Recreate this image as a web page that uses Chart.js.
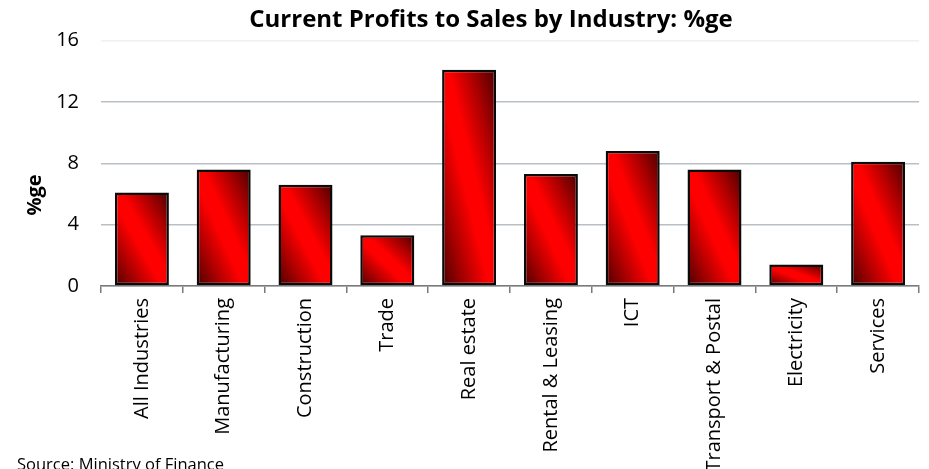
<!DOCTYPE html>
<html>
<head>
<meta charset="utf-8">
<title>Current Profits to Sales by Industry</title>
<script src="https://cdn.jsdelivr.net/npm/chart.js@4.4.1/dist/chart.umd.min.js"></script>
<style>
  html, body { margin: 0; padding: 0; background: #fff; overflow: hidden; }
  #wrap { position: relative; width: 929px; height: 469px; overflow: hidden; }
  #chart { position: absolute; left: 0; top: 0; }
  .source {
    position: absolute; left: 17px; top: 452px;
    font: 16.5px "Open Sans", sans-serif; color: #000;
  }
</style>
</head>
<body>
<div id="wrap">
  <canvas id="chart" width="929" height="520"></canvas>
  <div class="source">Source: Ministry of Finance</div>
</div>
<script>
// Current profits as a share of sales, by industry (%)
const categories = ['All Industries', 'Manufacturing', 'Construction', 'Trade', 'Real estate',
  'Rental & Leasing', 'ICT', 'Transport & Postal', 'Electricity', 'Services'];
const profitShare = [6.1, 7.6, 6.6, 3.3, 14.1, 7.3, 8.8, 7.6, 1.4, 8.1];
const yTicks = [0, 4, 8, 12, 16];

const BAR_PCT = 0.66;
const FONT = '"Open Sans", sans-serif';

// Diagonal shading: dark at bottom-left and top-right corners, bright red across the middle
function barFill(ctx) {
  const chart = ctx.chart;
  if (ctx.type !== 'data' || !chart.chartArea) return '#ff0000';
  const xs = chart.scales.x, ys = chart.scales.y;
  const w = xs.width / categories.length * BAR_PCT;
  const left = xs.getPixelForValue(ctx.dataIndex) - w / 2;
  const top = ys.getPixelForValue(ctx.raw);
  const base = ys.getPixelForValue(0);
  const h = Math.max(base - top, 1);
  const k = 2 * w * h / (w * w + h * h);
  const g = chart.ctx.createLinearGradient(left, base, left + h * k, base - w * k);
  g.addColorStop(0, '#4a0000');
  g.addColorStop(0.22, '#a80000');
  g.addColorStop(0.44, '#ff0000');
  g.addColorStop(0.56, '#ff0000');
  g.addColorStop(0.78, '#a80000');
  g.addColorStop(1, '#4a0000');
  return g;
}

// Title and y-axis caption drawn at fixed spots
const captions = {
  id: 'captions',
  afterDraw(chart) {
    const c = chart.ctx;
    c.save();
    c.fillStyle = '#000';
    c.textAlign = 'center';
    c.textBaseline = 'middle';
    c.font = 'bold 24px ' + FONT;
    c.fillText('Current Profits to Sales by Industry: %ge', 491, 20);
    c.translate(35, 195);
    c.rotate(-Math.PI / 2);
    c.font = 'bold 20px ' + FONT;
    c.fillText('%ge', 0, 0);
    c.restore();
  }
};

new Chart(document.getElementById('chart'), {
  type: 'bar',
  data: {
    labels: categories,
    datasets: [{
      data: profitShare,
      backgroundColor: barFill,
      borderColor: '#0a0a0a',
      borderWidth: 2.5,
      borderSkipped: false,
      categoryPercentage: 1,
      barPercentage: BAR_PCT
    }]
  },
  options: {
    responsive: false,
    animation: false,
    layout: { padding: { top: 40.5, right: 10, left: 0, bottom: 0 } },
    plugins: {
      legend: { display: false },
      title: { display: false },
      tooltip: { enabled: false }
    },
    scales: {
      x: {
        afterFit(scale) { scale.height = 234; },
        grid: {
          drawOnChartArea: false,
          drawTicks: true,
          tickLength: 7,
          color: '#7a7a7a',
          lineWidth: 1.5
        },
        border: { color: '#7a7a7a', width: 1.5 },
        ticks: {
          color: '#000',
          font: { family: FONT, size: 20 },
          minRotation: 90,
          maxRotation: 90,
          padding: 5,
          autoSkip: false
        }
      },
      y: {
        min: 0,
        max: 16,
        afterFit(scale) { scale.width = 101; },
        afterBuildTicks(scale) { scale.ticks = yTicks.map(v => ({ value: v })); },
        border: { display: false },
        grid: {
          drawTicks: false,
          color: ctx => (ctx.tick && ctx.tick.value === 16) ? '#eef0f2' : '#b9bfc4',
          lineWidth: 1.5
        },
        ticks: {
          color: '#000',
          font: { family: FONT, size: 20 },
          padding: 22
        }
      }
    }
  },
  plugins: [captions]
});
</script>
</body>
</html>
